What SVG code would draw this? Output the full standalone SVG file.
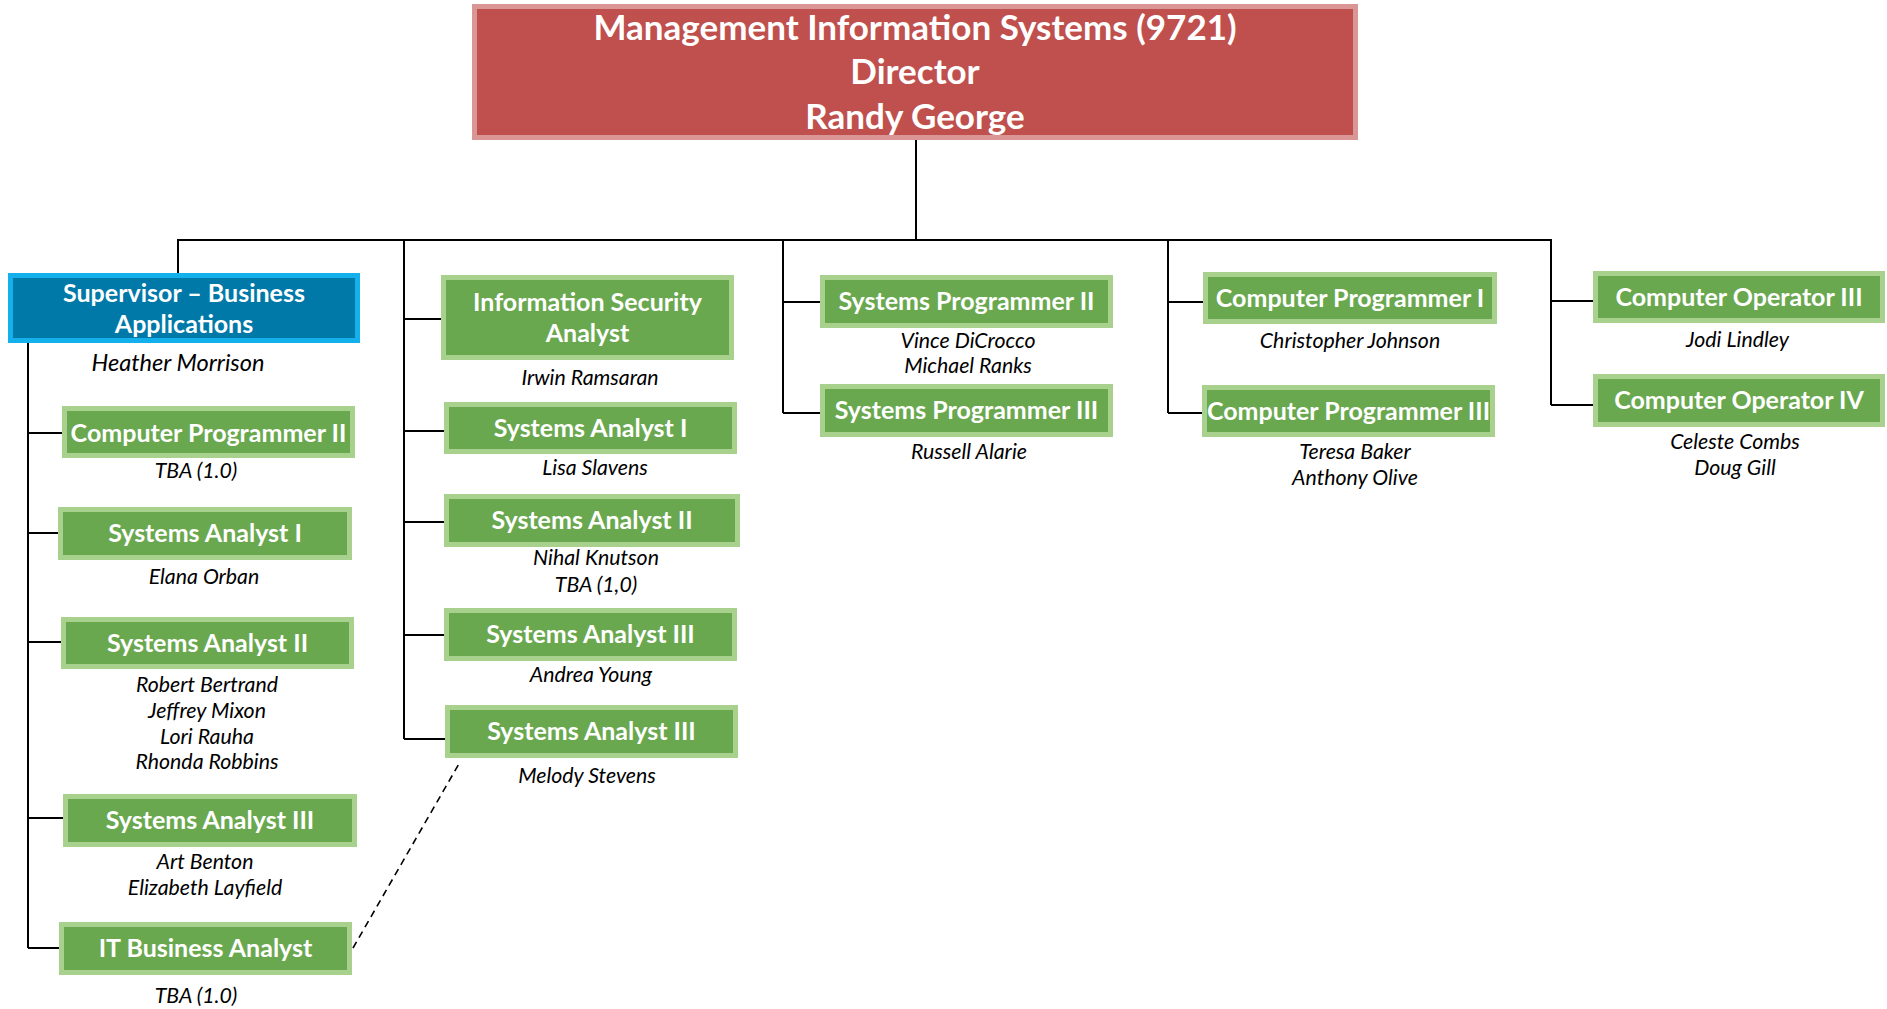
<svg xmlns="http://www.w3.org/2000/svg" width="1887" height="1009" viewBox="0 0 1887 1009">
<style>
.bg{fill:#fff}
.g{fill:#6aa84f;stroke:#a9d18e;stroke-width:5}
.r{fill:#c0504d;stroke:#d99694;stroke-width:5}
.b{fill:#0079a8;stroke:#13b0ec;stroke-width:5}
.t{font-family:Lato,"Open Sans","Liberation Sans",sans-serif;font-weight:700;fill:#fff;text-anchor:middle;font-size:25px}
.tt{font-size:35px}
.n{font-family:Lato,"Open Sans","Liberation Sans",sans-serif;font-style:italic;font-size:21.3px;fill:#000;text-anchor:middle}
.c{stroke:#000;stroke-width:2;fill:none}
.d{stroke:#000;stroke-width:1.6;fill:none;stroke-dasharray:7 5}
</style>
<rect class="bg" x="0" y="0" width="1887" height="1009"/>
<g id="connectors">
<path class="c" d="M916,140V240M177,240H1552M178,240V273"/>
<path class="c" d="M404,240V739M404,319H441M404,431H444M404,522H444M404,635H444M404,739H445"/>
<path class="c" d="M783,240V413M783,302H820M783,413H820"/>
<path class="c" d="M1168,240V413M1168,302H1203M1168,413H1202"/>
<path class="c" d="M1551,240V405M1551,301H1593M1551,405H1593"/>
<path class="c" d="M28,343V948M28,433H62M28,533H58M28,642H61M28,818H63M28,948H59"/>
<path class="d" d="M353,948L460,762"/>
</g>
<g id="director">
<rect class="r" x="474.5" y="6.5" width="881" height="131"/>
<text class="t tt" x="915" y="39.5">Management Information Systems (9721)</text>
<text class="t tt" x="915" y="83.5">Director</text>
<text class="t tt" x="915" y="128.5">Randy George</text>
</g>
<g id="supervisor">
<rect class="b" x="10.5" y="275.5" width="347" height="65"/>
<text class="t" x="184" y="301.5">Supervisor – Business</text>
<text class="t" x="184" y="333">Applications</text>
<text class="n" x="178" y="371" style="font-size:23.6px">Heather Morrison</text>
</g>
<g id="cp2-left">
<rect class="g" x="64.5" y="408.5" width="288" height="47"/>
<text class="t" x="208.5" y="441.5">Computer Programmer II</text>
<text class="n" x="196" y="478">TBA (1.0)</text>
</g>
<g id="sa1-left">
<rect class="g" x="60.5" y="509.5" width="289" height="48"/>
<text class="t" x="205" y="542">Systems Analyst I</text>
<text class="n" x="204" y="583.5">Elana Orban</text>
</g>
<g id="sa2-left">
<rect class="g" x="63.5" y="619.5" width="288" height="47"/>
<text class="t" x="207.5" y="651.5">Systems Analyst II</text>
<text class="n" x="207" y="692">Robert Bertrand</text>
<text class="n" x="207" y="718">Jeffrey Mixon</text>
<text class="n" x="207" y="743.5">Lori Rauha</text>
<text class="n" x="207" y="768.5">Rhonda Robbins</text>
</g>
<g id="sa3-left">
<rect class="g" x="65.5" y="796.5" width="289" height="48"/>
<text class="t" x="210" y="829">Systems Analyst III</text>
<text class="n" x="205" y="869">Art Benton</text>
<text class="n" x="205" y="895">Elizabeth Layfield</text>
</g>
<g id="itba">
<rect class="g" x="61.5" y="924.5" width="288" height="48"/>
<text class="t" x="205.5" y="957">IT Business Analyst</text>
<text class="n" x="196" y="1002.5">TBA (1.0)</text>
</g>
<g id="isa">
<rect class="g" x="443.5" y="277.5" width="288" height="80"/>
<text class="t" x="587.5" y="310.5">Information Security</text>
<text class="t" x="587.5" y="341.7">Analyst</text>
<text class="n" x="590" y="385">Irwin Ramsaran</text>
</g>
<g id="sa1-mid">
<rect class="g" x="446.5" y="404.5" width="288" height="47"/>
<text class="t" x="590.5" y="437">Systems Analyst I</text>
<text class="n" x="595" y="475">Lisa Slavens</text>
</g>
<g id="sa2-mid">
<rect class="g" x="446.5" y="496.5" width="291" height="48"/>
<text class="t" x="592" y="529">Systems Analyst II</text>
<text class="n" x="596" y="565">Nihal Knutson</text>
<text class="n" x="596" y="591.7">TBA (1,0)</text>
</g>
<g id="sa3-mid">
<rect class="g" x="446.5" y="610.5" width="288" height="48"/>
<text class="t" x="590.5" y="643">Systems Analyst III</text>
<text class="n" x="591" y="681.7">Andrea Young</text>
</g>
<g id="sa3-mid2">
<rect class="g" x="447.5" y="707.5" width="288" height="48"/>
<text class="t" x="591.5" y="740">Systems Analyst III</text>
<text class="n" x="587" y="782.7">Melody Stevens</text>
</g>
<g id="sp2">
<rect class="g" x="822.5" y="277.5" width="288" height="48"/>
<text class="t" x="966.5" y="310">Systems Programmer II</text>
<text class="n" x="968" y="348.3">Vince DiCrocco</text>
<text class="n" x="968" y="373.3">Michael Ranks</text>
</g>
<g id="sp3">
<rect class="g" x="822.5" y="386.5" width="288" height="48"/>
<text class="t" x="966.5" y="419">Systems Programmer III</text>
<text class="n" x="969" y="459.3">Russell Alarie</text>
</g>
<g id="cp1">
<rect class="g" x="1205.5" y="274.5" width="289" height="47"/>
<text class="t" x="1350" y="307">Computer Programmer I</text>
<text class="n" x="1350" y="348.3">Christopher Johnson</text>
</g>
<g id="cp3">
<rect class="g" x="1204.5" y="387.5" width="288" height="47"/>
<text class="t" x="1348.5" y="420">Computer Programmer III</text>
<text class="n" x="1355" y="459.3">Teresa Baker</text>
<text class="n" x="1355" y="485">Anthony Olive</text>
</g>
<g id="co3">
<rect class="g" x="1595.5" y="273.5" width="287" height="47"/>
<text class="t" x="1739" y="306">Computer Operator III</text>
<text class="n" x="1737.5" y="347">Jodi Lindley</text>
</g>
<g id="co4">
<rect class="g" x="1595.5" y="376.5" width="287" height="48"/>
<text class="t" x="1739" y="409">Computer Operator IV</text>
<text class="n" x="1735" y="449">Celeste Combs</text>
<text class="n" x="1735" y="474.5">Doug Gill</text>
</g>
</svg>
